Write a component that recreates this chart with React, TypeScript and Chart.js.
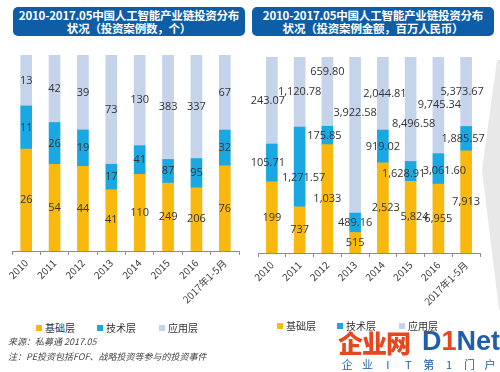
import React, { useEffect, useRef } from "react";
import { Chart, registerables } from "chart.js";

Chart.register(...registerables);

// ---------- data ----------
const categories = ["2010", "2011", "2012", "2013", "2014", "2015", "2016", "2017年1-5月"];
const seriesNames = ["基础层", "技术层", "应用层"];

const countBase = [26, 54, 44, 41, 110, 249, 206, 76];
const countTech = [11, 26, 19, 17, 41, 87, 95, 32];
const countApp = [13, 42, 39, 73, 130, 383, 337, 67];

const amountBase = [199, 737, 1033, 515, 2523, 5824, 6955, 7913];
const amountTech = [105.71, 1271.57, 175.85, 489.16, 919.02, 1628.91, 3061.6, 1885.57];
const amountApp = [243.07, 1120.78, 659.8, 3922.58, 2044.81, 8496.58, 9745.34, 5373.67];

const leftTitle = ["2010-2017.05中国人工智能产业链投资分布", "状况（投资案例数，个）"];
const rightTitle = ["2010-2017.05中国人工智能产业链投资分布", "状况（投资案例金额，百万人民币）"];

// ---------- styles ----------
const COLORS = ["#F8B80E", "#1AA8E3", "#C5D4EA"];
const FONT = '"Open Sans", "Noto Sans CJK SC", sans-serif';
const CJK = '"Noto Sans CJK SC", "Open Sans", sans-serif';

// label nudges (px) for the amount panel, per series [base, tech, app]
const amountNudgeX = [
  [0, 0, 0, 0, 3, 4, 0, 0],
  [-4, 4, -3, 0, 0, -7, 6, -3],
  [-4, 0, 0, 0, 2, 3, 1, -4],
];
const amountNudgeY = [
  [0, 0, 0, 0, 0, 0, 0, 0],
  [0, 11, 0, 0, 0, 2, 2, 0],
  [0, 0, -20, -22, 0, 15, 0, 0],
];

const fmtInt = (v: number) => v.toLocaleString("en-US", { maximumFractionDigits: 0 });
const fmt2 = (v: number) =>
  v.toLocaleString("en-US", { minimumFractionDigits: 2, maximumFractionDigits: 2 });

const valueLabels = {
  id: "valueLabels",
  afterDatasetsDraw(chart: any) {
    const ctx = chart.ctx;
    ctx.save();
    ctx.font = `11px ${FONT}`;
    ctx.fillStyle = "#333333";
    ctx.textAlign = "center";
    ctx.textBaseline = "middle";
    chart.data.datasets.forEach((ds: any, i: number) => {
      const meta = chart.getDatasetMeta(i);
      meta.data.forEach((el: any, j: number) => {
        const p = el.getProps(["x", "y", "base"], true);
        const dx = ds.nx ? ds.nx[j] : 0;
        const dy = ds.ny ? ds.ny[j] : 0;
        ctx.fillText(ds.fmt(ds.raw[j]), p.x + dx, (p.y + p.base) / 2 + dy);
      });
    });
    ctx.restore();
  },
};

function toPercent(series: number[][]) {
  return series.map((s) =>
    s.map((v, j) => {
      const total = series.reduce((a, ss) => a + ss[j], 0);
      return (v / total) * 100;
    })
  );
}

type PanelProps = {
  series: number[][];
  fmts: ((v: number) => string)[];
  pad: { top: number; left: number; right: number };
  axisHeight: number;
  nudgeX?: number[][];
  nudgeY?: number[][];
};

function Panel({ series, fmts, pad, axisHeight, nudgeX, nudgeY }: PanelProps) {
  const ref = useRef<HTMLCanvasElement>(null);
  useEffect(() => {
    if (!ref.current) return;
    const pct = toPercent(series);
    const chart = new Chart(ref.current, {
      type: "bar",
      data: {
        labels: categories,
        datasets: series.map((s, i) => ({
          label: seriesNames[i],
          data: pct[i],
          raw: s,
          fmt: fmts[i],
          nx: nudgeX ? nudgeX[i] : null,
          ny: nudgeY ? nudgeY[i] : null,
          backgroundColor: COLORS[i],
          borderWidth: 0,
          barThickness: 11,
        })) as any,
      },
      options: {
        animation: false,
        responsive: false,
        maintainAspectRatio: false,
        events: [],
        layout: { padding: { top: pad.top, left: pad.left, right: pad.right, bottom: 0 } },
        plugins: { legend: { display: false }, tooltip: { enabled: false } },
        scales: {
          x: {
            stacked: true,
            grid: {
              display: true,
              drawOnChartArea: false,
              drawTicks: true,
              tickLength: 4,
              color: "#8c8c8c",
              offset: true,
            },
            border: { display: true, color: "#8c8c8c", width: 1 },
            ticks: {
              minRotation: 45,
              maxRotation: 45,
              autoSkip: false,
              padding: 2,
              color: "#404040",
              font: { size: 10, family: CJK },
            },
            afterFit: (s: any) => {
              s.height = axisHeight;
            },
          },
          y: { stacked: true, display: false, min: 0, max: 100 },
        },
      },
      plugins: [valueLabels],
    });
    return () => chart.destroy();
  }, []);
  return <canvas ref={ref} width={250} height={280} style={{ display: "block", width: 250, height: 280 }} />;
}

function Title({ lines, left, width }: { lines: string[]; left: number; width: number }) {
  return (
    <div
      style={{
        position: "absolute",
        left,
        top: 7,
        width,
        height: 29,
        background: "#0D5EA6",
        borderRadius: 5,
        color: "#fff",
        fontFamily: CJK,
        fontWeight: 700,
        fontSize: 11.5,
        letterSpacing: -0.2,
        lineHeight: "12.5px",
        textAlign: "center",
        display: "flex",
        flexDirection: "column",
        justifyContent: "center",
        whiteSpace: "nowrap",
      }}
    >
      {lines.map((l, i) => (
        <div key={i}>{l}</div>
      ))}
    </div>
  );
}

function Legend({ xs, top }: { xs: number[]; top: number }) {
  return (
    <>
      {seriesNames.map((n, i) => (
        <div
          key={n}
          style={{
            position: "absolute",
            left: xs[i],
            top,
            display: "flex",
            alignItems: "center",
            fontFamily: CJK,
            fontSize: 10,
            color: "#333",
            whiteSpace: "nowrap",
          }}
        >
          <span style={{ width: 6, height: 6, background: COLORS[i], marginRight: 3, display: "inline-block" }} />
          {n}
        </div>
      ))}
    </>
  );
}

export default function App() {
  const footer = "企业IT第1门户".split("");
  return (
    <div
      style={{
        position: "absolute",
        left: 0,
        top: 0,
        width: 500,
        height: 372,
        background: "#fff",
        overflow: "hidden",
      }}
    >
      <div
        style={{
          position: "absolute",
          left: 480,
          top: 60,
          width: 20,
          height: 250,
          background: "#E8E8E8",
          clipPath: "polygon(17px 0, 20px 0, 20px 100%, 19px 100%, 2px 44%)",
        }}
      />
      <Title lines={leftTitle} left={13} width={232} />
      <Title lines={rightTitle} left={252} width={242} />
      <div style={{ position: "absolute", left: 0, top: 40 }}>
        <Panel
          series={[countBase, countTech, countApp]}
          fmts={[fmtInt, fmtInt, fmtInt]}
          pad={{ top: 15, left: 12, right: 11 }}
          axisHeight={69}
        />
      </div>
      <div style={{ position: "absolute", left: 250, top: 40 }}>
        <Panel
          series={[amountBase, amountTech, amountApp]}
          fmts={[fmtInt, fmt2, fmt2]}
          pad={{ top: 17, left: 8, right: 20 }}
          axisHeight={67}
          nudgeX={amountNudgeX}
          nudgeY={amountNudgeY}
        />
      </div>
      <Legend xs={[36, 97, 159]} top={320} />
      <Legend xs={[277, 337, 399]} top={318} />
      <div
        style={{
          position: "absolute",
          left: 8,
          top: 334,
          fontFamily: CJK,
          fontStyle: "italic",
          fontSize: 9,
          lineHeight: "15px",
          color: "#444",
        }}
      >
        <div>来源：私募通 2017.05</div>
        <div>注：PE投资包括FOF、战略投资等参与的投资事件</div>
      </div>
      <div
        style={{
          position: "absolute",
          left: 338,
          top: 327,
          fontFamily: CJK,
          fontWeight: 900,
          fontSize: 25,
          lineHeight: "30px",
          color: "#E8461E",
          letterSpacing: -1,
          whiteSpace: "nowrap",
        }}
      >
        企业网
      </div>
      <div
        style={{
          position: "absolute",
          left: 422,
          top: 325,
          fontFamily: '"Liberation Sans", Arial, sans-serif',
          fontWeight: 700,
          fontSize: 27,
          lineHeight: "32px",
          color: "#1F5EAE",
          whiteSpace: "nowrap",
        }}
      >
        D<span style={{ color: "#E8461E" }}>1</span>Net
      </div>
      <div
        style={{
          position: "absolute",
          left: 337,
          top: 357,
          display: "flex",
          fontFamily: CJK,
          fontSize: 11,
          lineHeight: "14px",
          color: "#1F5EAE",
        }}
      >
        {footer.map((c, i) => (
          <span key={i} style={{ width: 20.4, textAlign: "center" }}>
            {c}
          </span>
        ))}
      </div>
    </div>
  );
}
